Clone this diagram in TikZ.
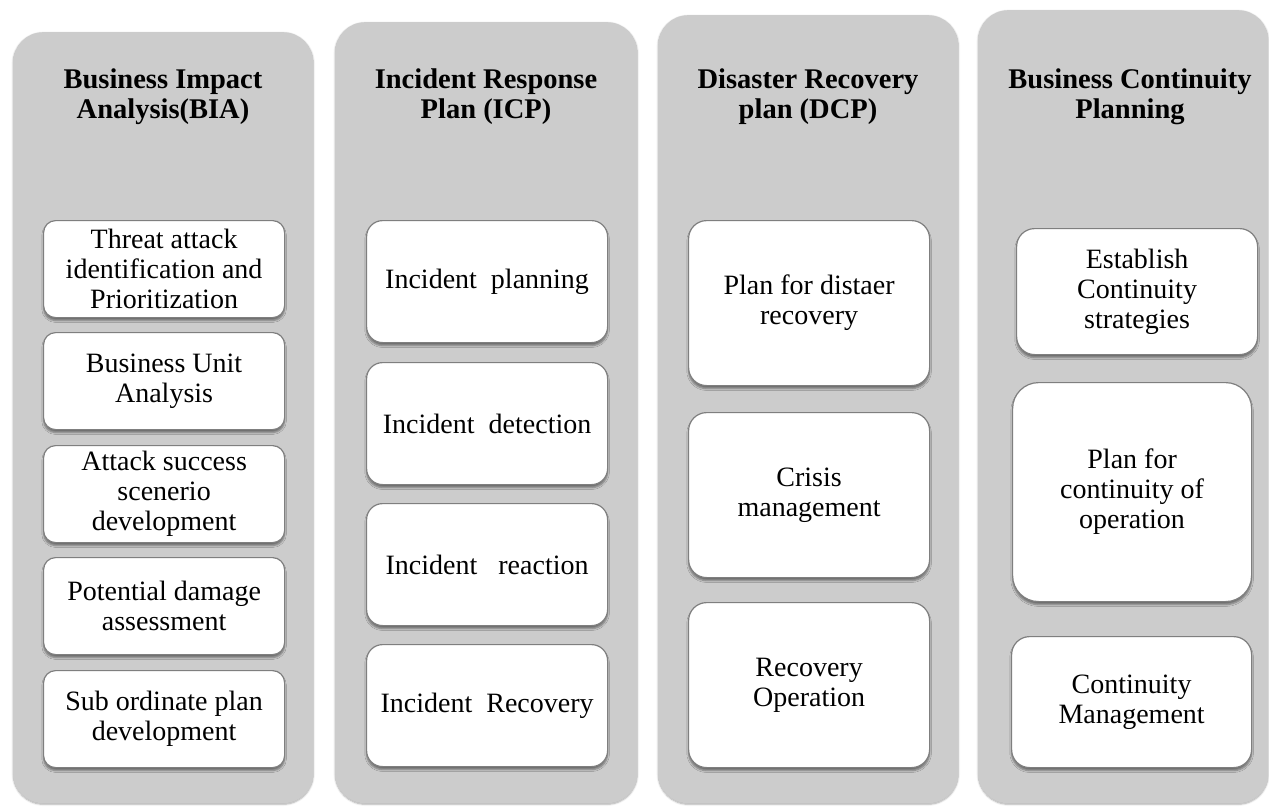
\documentclass[tikz,border=0pt]{standalone}
\usepackage{fontspec}
\setmainfont{Liberation Serif}
\usetikzlibrary{shadows.blur}
\definecolor{colgray}{HTML}{CCCCCC}
\definecolor{boxline}{HTML}{7F7F7F}
\tikzset{
  column/.style={draw=none, fill=colgray, rounded corners=30pt, anchor=north west,
    blur shadow={shadow xshift=0pt, shadow yshift=-1pt, shadow blur steps=6, shadow opacity=35, shadow blur extra rounding=2pt}},
  title/.style={font=\fontsize{28.5}{30}\selectfont\bfseries, align=center, inner sep=0pt},
  item/.style={draw=boxline, line width=1.2pt, fill=white, anchor=north west, align=center,
    font=\fontsize{28}{30}\selectfont, inner sep=0pt,
    blur shadow={shadow xshift=0pt, shadow yshift=-3pt, shadow blur steps=5, shadow opacity=45}},
}
\begin{document}
\begin{tikzpicture}[x=1pt, y=-1pt]
\useasboundingbox (0,0) rectangle (1269,806);
% columns
\node[column, minimum width=300pt, minimum height=771pt] (c1) at (13,32) {};
\node[column, minimum width=302pt, minimum height=781pt] (c2) at (335,22) {};
\node[column, minimum width=300pt, minimum height=788pt] (c3) at (658,15) {};
\node[column, minimum width=290pt, minimum height=793pt] (c4) at (978,10) {};
% titles
\node[title] (t1) at (163,97) {Business Impact\\Analysis(BIA)};
\node[title] (t2) at (486,97) {Incident Response\\Plan (ICP)};
\node[title] (t3) at (808,97) {Disaster Recovery\\plan (DCP)};
\node[title] (t4) at (1130,97) {Business Continuity\\Planning};
% column 1
\begin{scope}[every node/.append style={item, rounded corners=12pt, minimum width=241pt, minimum height=97pt}]
\node (a1) at (43,220) {Threat attack\\identification and\\Prioritization};
\node (a2) at (43,332) {Business Unit\\Analysis};
\node (a3) at (43,445) {Attack success\\scenerio\\development};
\node (a4) at (43,557) {Potential damage\\assessment};
\node (a5) at (43,670) {Sub ordinate plan\\development};
\end{scope}
% column 2
\begin{scope}[every node/.append style={item, rounded corners=16pt, minimum width=241pt, minimum height=122pt}]
\node (b1) at (366,220) {Incident\ \ planning};
\node (b2) at (366,362) {Incident\ \ detection};
\node (b3) at (366,503) {Incident\ \ \ reaction};
\node (b4) at (366,644) {Incident\ \ Recovery};
\end{scope}
% column 3
\begin{scope}[every node/.append style={item, rounded corners=18pt, minimum width=241pt, minimum height=165pt}]
\node (d1) at (688,220) {Plan for distaer\\recovery};
\node (d2) at (688,412) {Crisis\\management};
\node (d3) at (688,602) {Recovery\\Operation};
\end{scope}
% column 4
\begin{scope}[every node/.append style={item, rounded corners=18pt}]
\node[minimum width=241pt, minimum height=126pt] (e1) at (1016,228) {Establish\\Continuity\\strategies};
\node[minimum width=239pt, minimum height=219pt, rounded corners=26pt] (e2) at (1012,382) {Plan for\\continuity of\\operation};
\node[minimum width=240pt, minimum height=131pt] (e3) at (1011,636) {Continuity\\Management};
\end{scope}
\end{tikzpicture}
\end{document}
